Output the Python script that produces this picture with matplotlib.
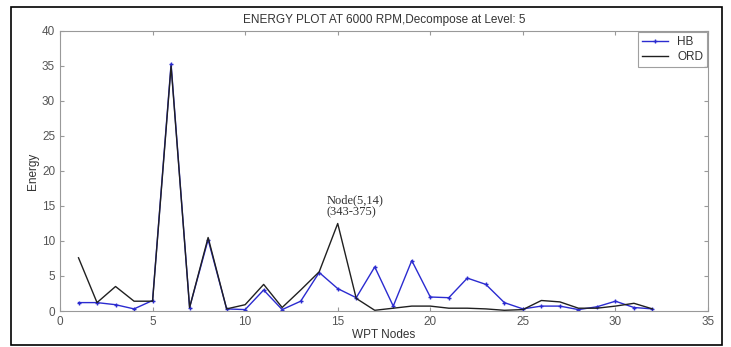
import matplotlib
matplotlib.use("Agg")
import matplotlib.pyplot as plt
from matplotlib.patches import Rectangle

plt.rcParams['font.family'] = ['Liberation Sans', 'DejaVu Sans']

nodes = list(range(1, 33))
hb = [1.2, 1.2, 0.9, 0.3, 1.5, 35.3, 0.5, 10.2, 0.3, 0.2,
      3.0, 0.2, 1.4, 5.5, 3.2, 1.9, 6.3, 0.7, 7.2, 2.0,
      1.9, 4.7, 3.8, 1.2, 0.3, 0.7, 0.7, 0.2, 0.6, 1.4,
      0.5, 0.3]
ord_ = [7.6, 1.2, 3.5, 1.4, 1.4, 35.0, 0.5, 10.5, 0.3, 0.9,
        3.8, 0.5, 3.0, 5.6, 12.5, 1.8, 0.1, 0.4, 0.7, 0.7,
        0.4, 0.4, 0.3, 0.1, 0.2, 1.5, 1.3, 0.4, 0.4, 0.7,
        1.1, 0.3]
title = "ENERGY PLOT AT 6000 RPM,Decompose at Level: 5"
annot = "Node(5,14)\n(343-375)"

W, H = 731, 347
fig = plt.figure(figsize=(W / 100, H / 100), dpi=100)
fig.patches.append(Rectangle((11 / W, 1 - 345 / H), 711 / W, 338 / H,
                             transform=fig.transFigure, fill=False,
                             edgecolor="black", linewidth=1.2))
ax = fig.add_axes([60 / W, 1 - 311 / H, 648 / W, 280 / H])

ax.plot(nodes, hb, color="#2b2bd0", marker="+", markersize=3, linewidth=1.0, label="HB")
ax.plot(nodes, ord_, color="#202020", linewidth=1.0, label="ORD")

ax.set_xlim(0, 35)
ax.set_ylim(0, 40)
ax.set_xticks(range(0, 36, 5))
ax.set_yticks(range(0, 41, 5))
tc = "#555555"
for s in ax.spines.values():
    s.set_color("#999999")
    s.set_linewidth(0.8)
ax.tick_params(direction="in", top=True, right=True, length=3, colors="#999999",
               labelcolor=tc, labelsize=8.5)

ax.set_title(title, fontsize=8.5, color="#333333", pad=6)
ax.set_xlabel("WPT Nodes", fontsize=8.5, color="#333333", labelpad=1)
ax.set_ylabel("Energy", fontsize=8.5, color="#333333", labelpad=2)

ax.text(14.4, 13.2, annot, fontsize=9, family="Liberation Serif", color="#333333",
        ha="left", va="bottom", linespacing=1.05)

leg = ax.legend(loc="upper right", fontsize=8.5, frameon=True, fancybox=False,
                edgecolor="#888888", borderaxespad=0.1, handlelength=2.2,
                borderpad=0.3, labelspacing=0.3)
leg.get_frame().set_linewidth(0.8)
for t in leg.get_texts():
    t.set_color("#333333")

fig.savefig("out.png", dpi=100)
